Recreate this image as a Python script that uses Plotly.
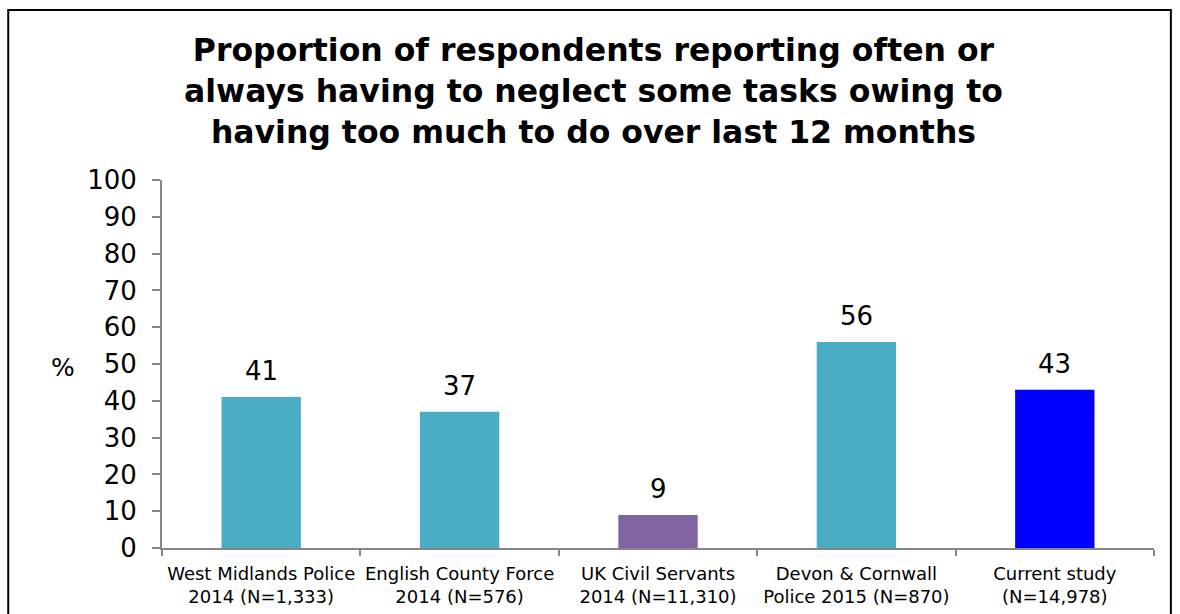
import plotly.graph_objects as go

# Survey groups (two-line labels) and share reporting neglecting tasks
categories = [
    "West Midlands Police<br>2014 (N=1,333)",
    "English County Force<br>2014 (N=576)",
    "UK Civil Servants<br>2014 (N=11,310)",
    "Devon & Cornwall<br>Police 2015 (N=870)",
    "Current study<br>(N=14,978)",
]
values = [41, 37, 9, 56, 43]
bar_colors = ["#4BACC6", "#4BACC6", "#8064A2", "#4BACC6", "#0000FF"]
y_ticks = list(range(0, 101, 10))

FONT = "DejaVu Sans, Verdana, sans-serif"
AXIS_GREY = "#878787"

fig = go.Figure()
fig.add_trace(go.Bar(
    x=categories,
    y=values,
    marker=dict(color=bar_colors, line=dict(width=0)),
    width=0.4,
    hoverinfo="x+y",
))

# value labels above each bar
for cat, val in zip(categories, values):
    fig.add_annotation(
        x=cat, y=val, text=str(val), showarrow=False,
        yanchor="bottom", yshift=9,
        font=dict(family=FONT, size=26, color="#000000"),
    )

# horizontal "%" axis caption
fig.add_annotation(
    xref="paper", yref="y", x=-0.0998, y=49, text="%", showarrow=False,
    xanchor="center", yanchor="middle",
    font=dict(family=FONT, size=25, color="#000000"),
)

# chart title, three centred lines
fig.add_annotation(
    xref="paper", yref="paper", x=0.435, y=1.407,
    xanchor="center", yanchor="top", showarrow=False,
    text="<b>Proportion of respondents reporting often or<br>"
         "always having to neglect some tasks owing to<br>"
         "having too much to do over last 12 months</b>",
    font=dict(family=FONT, size=31.5, color="#000000"),
)

# outer frame around the whole chart
fig.add_shape(
    type="rect", xref="paper", yref="paper",
    x0=-0.155, x1=1.017, y0=-0.4, y1=1.462,
    line=dict(color="#000000", width=2), fillcolor="rgba(0,0,0,0)", layer="above",
)

fig.update_layout(
    width=1180, height=614,
    margin=dict(l=162, r=26, t=180, b=66, autoexpand=False),
    paper_bgcolor="#ffffff", plot_bgcolor="#ffffff",
    showlegend=False,
    bargap=0.6,
)

fig.update_xaxes(
    type="category", tickangle=0, automargin=False,
    showline=True, linecolor=AXIS_GREY, linewidth=2,
    ticks="outside", tickson="boundaries", ticklen=6, tickcolor=AXIS_GREY, tickwidth=2,
    ticklabelstandoff=8,
    tickfont=dict(family=FONT, size=18, color="#000000"),
    showgrid=False, zeroline=False,
)
fig.update_yaxes(
    range=[0, 100], tickvals=y_ticks, automargin=False,
    showline=True, linecolor=AXIS_GREY, linewidth=2,
    ticks="outside", ticklen=8, tickcolor=AXIS_GREY, tickwidth=2,
    ticklabelstandoff=10,
    tickfont=dict(family=FONT, size=26, color="#000000"),
    showgrid=False, zeroline=False,
)

fig.write_html("out.html")
